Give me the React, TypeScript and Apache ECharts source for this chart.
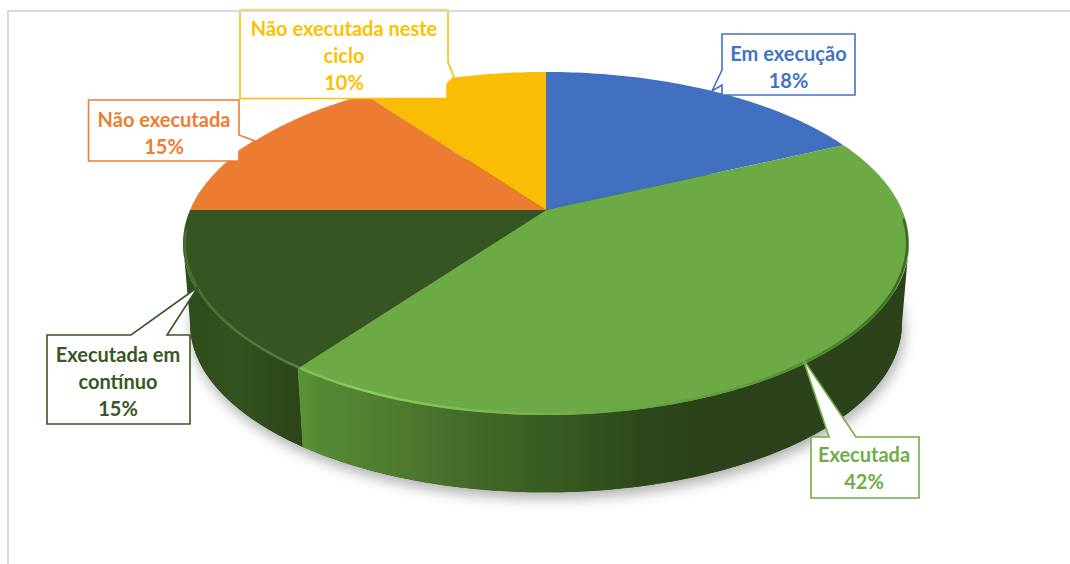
import React, { useEffect, useRef } from "react";
import * as echarts from "echarts";

const categories = ["Em execução", "Executada", "Executada em contínuo", "Não executada", "Não executada neste ciclo"];
const values = [18, 42, 15, 15, 10];
const labelLines = [["Em execução"], ["Executada"], ["Executada em", "contínuo"], ["Não executada"], ["Não executada neste", "ciclo"]];

const sliceColors = ["#4070bf", "#6caa46", "#365522", "#eb7c31", "#fbbc04"];
const labelColors = ["#4472c4", "#70ad47", "#385723", "#ed7d31", "#ffc000"];
const FONT = "Lato";

const total = values.reduce((a, b) => a + b, 0);
function sliceRange(i: number): [number, number] {
  let s = 0;
  for (let j = 0; j < i; j++) s += values[j];
  return [(s / total) * 360, ((s + values[i]) / total) * 360];
}

const K = 0.1953;
const TOP = { x: 546, y: 210, a: 356, b: 165 };
const BOTTOM = { x: 546, y: 291, a: 349, b: 162 };
// Angles at which the disc's silhouette turns: only the wall between them faces the viewer.
const FRONT_FROM = (Math.acos(-K) * 180) / Math.PI;
const FRONT_TO = 360 - FRONT_FROM;

function project(deg: number, level: typeof TOP, r = 1): [number, number] {
  const t = (deg * Math.PI) / 180;
  const u = Math.sin(t) * r;
  const v = Math.cos(t) * r;
  const w = 1 + K * v;
  return [level.x + (level.a * u) / w, level.y - (level.b * v) / w];
}

function arc(from: number, to: number, level: typeof TOP, r = 1): [number, number][] {
  const pts: [number, number][] = [];
  const n = Math.max(2, Math.ceil(Math.abs(to - from)));
  for (let i = 0; i <= n; i++) pts.push(project(from + ((to - from) * i) / n, level, r));
  return pts;
}

const grad = (x0: number, x1: number, stops: [number, string][]) =>
  new echarts.graphic.LinearGradient(
    x0, 0, x1, 0,
    stops.map(([offset, color]) => ({ offset, color })),
    true
  );

const wallFills: any[] = [
  "#2c431b",
  grad(295, 700, [
    [0, "#5c9639"],
    [0.06, "#558a35"],
    [0.26, "#4f7a2e"],
    [0.43, "#436a29"],
    [0.65, "#365a20"],
    [0.85, "#2e481b"],
    [1, "#2c421a"],
  ]),
  grad(186, 298, [
    [0, "#2f4c1c"],
    [0.45, "#33531f"],
    [1, "#2c451a"],
  ]),
  "#2c431b",
  "#2c431b",
];

const rims: any[] = [
  null,
  grad(295, 908, [
    [0, "#7dbb52"],
    [0.12, "#8bce5d"],
    [0.3, "#7cbb52"],
    [0.5, "#6caa46"],
    [0.75, "#5f9a3c"],
    [1, "#3f6626"],
  ]),
  grad(183, 296, [
    [0, "#466f2c"],
    [0.5, "#4f7b33"],
    [0.9, "#56784a"],
    [1, "#5d7f50"],
  ]),
  null,
  null,
];

type Callout = { outline: [number, number][]; cx: number; cy: number };
const callouts: Callout[] = [
  {
    outline: [[722, 34], [855, 34], [855, 95], [722, 95], [722, 85], [712, 91], [722, 70]],
    cx: 788.5, cy: 66,
  },
  {
    outline: [[811, 437], [829, 437], [803, 359], [856, 437], [919, 437], [919, 498], [811, 498]],
    cx: 864, cy: 467.5,
  },
  {
    outline: [[47, 335], [131, 335], [198, 287], [167, 335], [190, 335], [190, 424], [47, 424]],
    cx: 118, cy: 381,
  },
  {
    outline: [[88.5, 100], [239, 100], [239, 135], [255, 141], [239, 151], [239, 161], [88.5, 161]],
    cx: 164, cy: 132,
  },
  {
    outline: [[240, 10], [448, 10], [448, 62], [454, 77], [447, 84], [447, 98.5], [240, 98.5]],
    cx: 344, cy: 55,
  },
];

function calloutElements() {
  const out: any[] = [];
  callouts.forEach((c, i) => {
    out.push({
      type: "polygon",
      z: 100,
      shape: { points: c.outline },
      style: { fill: "#ffffff", stroke: labelColors[i], lineWidth: 1.6, lineJoin: "miter" },
    });
    out.push({
      type: "text",
      z: 101,
      x: c.cx,
      y: c.cy,
      style: {
        text: [...labelLines[i], `${values[i]}%`].join("\n"),
        fill: labelColors[i],
        fontFamily: FONT,
        fontWeight: "bold",
        fontSize: 20,
        lineHeight: 27,
        textAlign: "center",
        textVerticalAlign: "middle",
      },
    });
  });
  out.push({
    type: "polyline",
    z: 110,
    shape: { points: [[8, 564], [8, 11], [1070, 11]] },
    style: { fill: "none", stroke: "#d9d9d9", lineWidth: 2 },
  });
  return out;
}

const sliceData = categories.map((name, i) => ({ name, value: values[i] }));

export default function App() {
  const ref = useRef<HTMLDivElement>(null);
  useEffect(() => {
    document.body.style.margin = "0";
    const chart = echarts.init(ref.current!, null, { renderer: "svg" });
    chart.setOption({
      animation: false,
      backgroundColor: "#ffffff",
      series: [
        {
          type: "custom",
          coordinateSystem: "none",
          silent: true,
          data: [0],
          renderItem: () => ({
            type: "polygon",
            shape: { points: arc(0, 360, BOTTOM) },
            style: {
              fill: "#2c431b",
              shadowBlur: 14,
              shadowColor: "rgba(0,0,0,0.32)",
              shadowOffsetY: 6,
              shadowOffsetX: 2,
            },
          }),
        },
        {
          type: "custom",
          coordinateSystem: "none",
          silent: true,
          data: sliceData,
          renderItem: (p: any) => {
            const [s, e] = sliceRange(p.dataIndex);
            const a = Math.max(s, FRONT_FROM);
            const b = Math.min(e, FRONT_TO);
            if (a >= b) return null;
            const pts = [...arc(a, b, TOP), ...arc(b, a, BOTTOM)];
            return { type: "polygon", shape: { points: pts }, style: { fill: wallFills[p.dataIndex] } };
          },
        },
        {
          type: "custom",
          coordinateSystem: "none",
          silent: true,
          data: sliceData,
          renderItem: (p: any) => {
            const [a, b] = sliceRange(p.dataIndex);
            const pts = [[TOP.x, TOP.y], ...arc(a, b, TOP)];
            return { type: "polygon", shape: { points: pts }, style: { fill: sliceColors[p.dataIndex] } };
          },
        },
        {
          type: "custom",
          coordinateSystem: "none",
          silent: true,
          data: sliceData,
          renderItem: (p: any) => {
            const rim = rims[p.dataIndex];
            if (!rim) return null;
            const [a, b] = sliceRange(p.dataIndex);
            return {
              type: "polyline",
              shape: { points: arc(Math.max(a, FRONT_FROM - 8), Math.min(b, FRONT_TO + 4), TOP, 0.995) },
              style: { fill: "none", stroke: rim, lineWidth: 2.5, lineCap: "round" },
            };
          },
        },
      ],
      graphic: { elements: calloutElements() },
    });
    return () => chart.dispose();
  }, []);
  return <div ref={ref} style={{ position: "absolute", left: 0, top: 0, width: 1070, height: 564 }} />;
}
